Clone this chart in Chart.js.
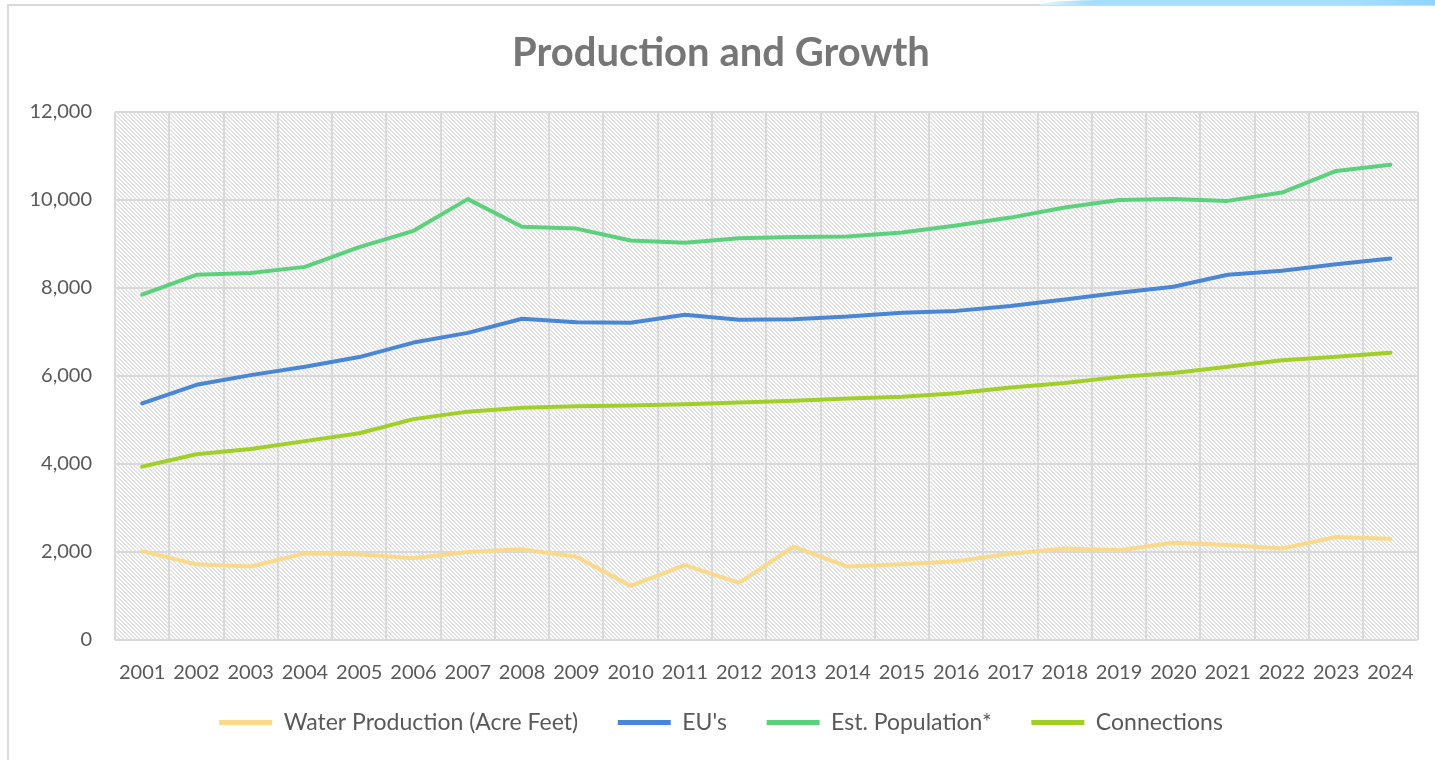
<!DOCTYPE html>
<html>
<head>
<meta charset="utf-8">
<title>Production and Growth</title>
<script src="https://cdn.jsdelivr.net/npm/chart.js@4.4.1/dist/chart.umd.min.js"></script>
<style>
  html, body { margin: 0; padding: 0; background: #fff; overflow: hidden; }
  #wrap { position: relative; width: 1435px; height: 760px; }
  #frame {
    position: absolute; left: 7px; top: 4px; width: 2000px; height: 2000px;
    border-left: 2px solid #d9d9d9; border-top: 2px solid #d9d9d9;
  }
  #band {
    position: absolute; top: 0; left: 1040px; right: 0; height: 5px;
    background: linear-gradient(90deg, #e6f6ff 0%, #a6ddfb 12%, #a6ddfb 80%, #8fd3fb 100%);
    border-top-left-radius: 60px 5px;
  }
  canvas { position: absolute; left: 0; top: 0; }
</style>
</head>
<body>
<div id="wrap">
  <div id="frame"></div>
  <div id="band"></div>
  <canvas id="chart1" width="1435" height="760"></canvas>
</div>
<script>
"use strict";

const years = [
    '2001', '2002', '2003', '2004', '2005', '2006', '2007', '2008',
    '2009', '2010', '2011', '2012', '2013', '2014', '2015', '2016',
    '2017', '2018', '2019', '2020', '2021', '2022', '2023', '2024',
];

const waterProduction = [2020, 1720, 1670, 1970, 1950, 1860, 2000, 2060, 1890, 1230, 1700, 1300,
    2120, 1670, 1720, 1790, 1960, 2080, 2040, 2210, 2160, 2080, 2340, 2300];

const eus = [5380, 5800, 6020, 6210, 6430, 6760, 6980, 7300, 7220, 7210, 7390, 7280,
    7290, 7350, 7440, 7480, 7590, 7740, 7890, 8030, 8300, 8390, 8540, 8670];

const population = [7850, 8300, 8340, 8480, 8930, 9300, 10020, 9390, 9350, 9080, 9030, 9130,
    9160, 9170, 9260, 9420, 9600, 9830, 10000, 10020, 9980, 10170, 10660, 10800];

const connections = [3940, 4220, 4340, 4520, 4700, 5020, 5190, 5280, 5310, 5330, 5360, 5400,
    5440, 5490, 5530, 5610, 5740, 5840, 5980, 6070, 6210, 6360, 6440, 6530];

const yTicks = [0, 2000, 4000, 6000, 8000, 10000, 12000];

const font = 'Lato, "Open Sans", sans-serif';

// light downward diagonal fill behind the plot
function makeHatch() {
    const c = document.createElement('canvas');
    c.width = 8;
    c.height = 8;
    const g = c.getContext('2d');
    g.fillStyle = '#ffffff';
    g.fillRect(0, 0, 8, 8);
    g.fillStyle = '#e3e3e3';
    for (let y = 0; y < 8; y++) {
        for (let x = 0; x < 8; x++) {
            const d = ((x - y) % 4 + 4) % 4;
            if (d === 0 || d === 1) g.fillRect(x, y, 1, 1);
        }
    }
    return c;
}

const hatchPlugin = {
    id: 'hatch',
    beforeDraw(chart) {
        const {ctx, chartArea: a} = chart;
        ctx.save();
        ctx.fillStyle = ctx.createPattern(makeHatch(), 'repeat');
        ctx.fillRect(a.left, a.top, a.right - a.left, a.bottom - a.top);
        ctx.restore();
    }
};

function series(label, data, color) {
    return {
        label: label,
        data: data,
        borderColor: color,
        backgroundColor: color,
        borderWidth: 4,
        pointRadius: 0,
        pointHoverRadius: 0,
        tension: 0,
        borderCapStyle: 'round',
        borderJoinStyle: 'round',
        fill: false,
    };
}

const data = {
    labels: years,
    datasets: [
        series('Water Production (Acre Feet)', waterProduction, '#fad98b'),
        series("EU's", eus, '#4a86d6'),
        series('Est. Population*', population, '#5cd17b'),
        series('Connections', connections, '#a0cf27'),
    ]
};

const config = {
    type: 'line',
    data: data,
    plugins: [hatchPlugin],
    options: {
        responsive: false,
        animation: false,
        layout: { padding: { left: 24, right: 17, top: 0, bottom: 16 } },
        plugins: {
            title: {
                display: true,
                text: 'Production and Growth',
                color: '#767676',
                font: { family: font, size: 40, weight: 'bold', lineHeight: 1.2 },
                padding: { top: 29, bottom: 35 },
            },
            legend: {
                position: 'bottom',
                labels: {
                    color: '#595959',
                    font: { family: font, size: 23 },
                    boxWidth: 53,
                    boxHeight: 5,
                    padding: 22,
                    generateLabels(chart) {
                        const items = Chart.defaults.plugins.legend.labels.generateLabels(chart);
                        // widen the gaps between entries
                        items.forEach((it, i) => {
                            it.lineWidth = 0;
                            if (i < items.length - 1) it.text += '   ';
                        });
                        return items;
                    },
                },
            },
            tooltip: { enabled: false },
        },
        scales: {
            x: {
                offset: true,
                grid: { offset: true, color: '#d9d9d9', lineWidth: 2, drawTicks: false },
                border: { display: false },
                ticks: {
                    color: '#595959',
                    font: { family: font, size: 20 },
                    padding: 21,
                    autoSkip: false,
                    maxRotation: 0,
                },
                afterFit(scale) { scale.height = 49; },
            },
            y: {
                min: 0,
                max: 12000,
                afterBuildTicks(scale) { scale.ticks = yTicks.map(v => ({value: v})); },
                grid: { color: '#d9d9d9', lineWidth: 2, drawTicks: false },
                border: { display: false },
                ticks: {
                    color: '#595959',
                    font: { family: font, size: 20 },
                    padding: 23,
                    callback: v => v.toLocaleString('en-US'),
                },
                afterFit(scale) { scale.width = 91; },
            },
        },
    },
};

const myChart = new Chart(document.getElementById('chart1'), config);
</script>
</body>
</html>
